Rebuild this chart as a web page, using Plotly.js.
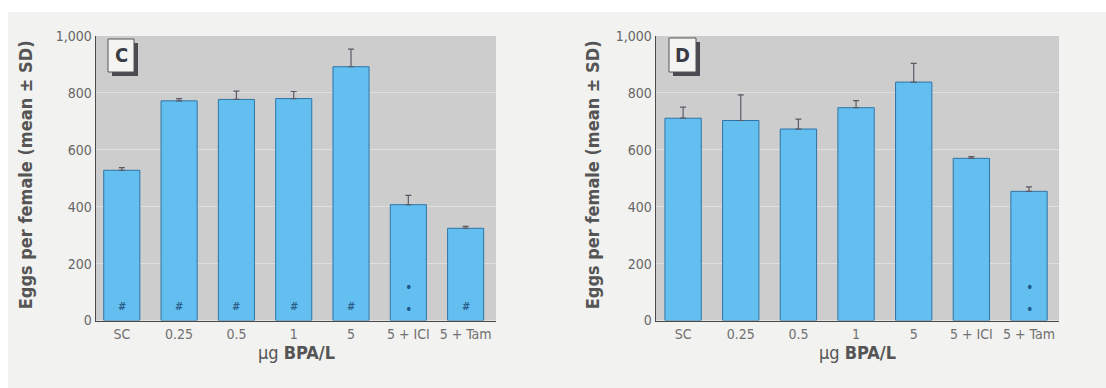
<!DOCTYPE html>
<html>
<head>
<meta charset="utf-8">
<script src="https://cdn.plot.ly/plotly-3.0.1.min.js"></script>
<style>
  html, body { margin: 0; padding: 0; background: #ffffff; }
  #chart { width: 1106px; height: 388px; }
</style>
</head>
<body>
<div id="chart"></div>
<script>
// Treatment groups (µg BPA/L)
const categories = ['SC', '0.25', '0.5', '1', '5', '5 + ICI', '5 + Tam'];

// Panel C: eggs per female, mean and upper SD
const eggsC = [528, 772, 777, 780, 892, 407, 324];
const sdC   = [9, 8, 29, 25, 62, 33, 7];
const marksC = ['#', '#', '#', '#', '#', '*', '#'];

// Panel D: eggs per female, mean and upper SD
const eggsD = [711, 703, 673, 748, 838, 570, 454];
const sdD   = [39, 90, 35, 25, 66, 6, 16];
const marksD = ['', '', '', '', '', '', '*'];

const yTicks = [0, 200, 400, 600, 800, 1000];
const panelLetters = ['C', 'D'];

const W = 1106, H = 388;
const px = v => v / W;
const py = v => 1 - v / H;

const FONT = '"Liberation Sans Narrow", "DejaVu Sans Condensed", "Arial Narrow", sans-serif';
const barFill = '#62bff0';
const barLine = '#2f74a6';
const ink = '#555555';

function barTrace(y, sd, xa, ya) {
  return {
    type: 'bar',
    x: categories.map((c, k) => k),
    y: y,
    xaxis: xa,
    yaxis: ya,
    width: 0.63,
    marker: { color: barFill, line: { color: barLine, width: 1 } },
    error_y: {
      type: 'data', symmetric: false, array: sd,
      arrayminus: sd.map(() => 0),
      color: '#5a5a66', thickness: 1.2, width: 3
    },
    hoverinfo: 'skip',
    showlegend: false
  };
}

const data = [
  barTrace(eggsC, sdC, 'x', 'y'),
  barTrace(eggsD, sdD, 'x2', 'y2')
];

// Plot areas in pixels
const panels = [
  { x0: 96, x1: 496, range: [-0.45, 6.53], xa: 'x', ya: 'y', marks: marksC,
    box: [108, 39, 134, 72], titleX: 25 },
  { x0: 656, x1: 1059, range: [-0.47, 6.52], xa: 'x2', ya: 'y2', marks: marksD,
    box: [669, 38, 696, 72], titleX: 592 }
];
const yTop = 36, yBottom = 320.5;

function xAxis(p) {
  return {
    domain: [px(p.x0), px(p.x1)],
    type: 'linear',
    range: p.range,
    tickvals: categories.map((c, k) => k),
    ticktext: categories,
    showgrid: false,
    zeroline: false,
    showline: true, linecolor: '#4a4a4a', linewidth: 1.5,
    ticks: '',
    tickfont: { family: FONT, size: 14, color: '#707070' },
    fixedrange: true
  };
}
function yAxis(p) {
  return {
    domain: [py(yBottom), py(yTop)],
    range: [0, 1000],
    tickvals: yTicks,
    tickformat: ',',
    showgrid: true, gridcolor: '#e0e0e0', gridwidth: 1,
    zeroline: false,
    showline: true, linecolor: '#4a4a4a', linewidth: 1.5,
    ticks: '',
    tickfont: { family: FONT, size: 14, color: '#666666' },
    fixedrange: true
  };
}

const shapes = [
  // white margin strips around the sheet
  { type: 'rect', xref: 'paper', yref: 'paper', x0: 0, x1: 1, y0: py(12), y1: 1,
    fillcolor: '#ffffff', line: { width: 0 }, layer: 'below' },
  { type: 'rect', xref: 'paper', yref: 'paper', x0: 0, x1: px(8), y0: 0, y1: 1,
    fillcolor: '#ffffff', line: { width: 0 }, layer: 'below' }
];
const annotations = [];

panels.forEach((p, i) => {
  const [bx0, by0, bx1, by1] = p.box;
  // letter box with drop shadow
  shapes.push({ type: 'rect', xref: 'paper', yref: 'paper',
    x0: px(bx0 + 4), x1: px(bx1 + 4), y0: py(by1 + 4), y1: py(by0 + 4),
    fillcolor: '#4a4a52', line: { width: 0 } });
  shapes.push({ type: 'rect', xref: 'paper', yref: 'paper',
    x0: px(bx0), x1: px(bx1), y0: py(by1), y1: py(by0),
    fillcolor: '#f4f4f2', line: { color: '#555555', width: 1 } });
  annotations.push({ xref: 'paper', yref: 'paper', x: px((bx0 + bx1) / 2), y: py((by0 + by1) / 2),
    text: '<b>' + panelLetters[i] + '</b>', showarrow: false,
    font: { family: FONT, size: 20, color: '#3a3a44' }, xanchor: 'center', yanchor: 'middle' });

  // axis titles
  annotations.push({ xref: 'paper', yref: 'paper', x: px(p.titleX), y: py((yTop + yBottom) / 2 - 3),
    text: '<b>Eggs per female (mean ± SD)</b>', textangle: -90, showarrow: false,
    font: { family: FONT, size: 18, color: ink }, xanchor: 'center', yanchor: 'middle' });
  annotations.push({ xref: 'paper', yref: 'paper', x: px((p.x0 + p.x1) / 2), y: py(352),
    text: 'µg <b>BPA/L</b>', showarrow: false,
    font: { family: FONT, size: 18, color: ink }, xanchor: 'center', yanchor: 'middle' });

  // significance marks inside bars
  p.marks.forEach((m, k) => {
    if (m === '#') {
      annotations.push({ xref: p.xa, yref: p.ya, x: k, y: 50, text: '<b><i>#</i></b>',
        showarrow: false, font: { family: FONT, size: 11, color: '#2c5f8c' } });
    } else if (m === '*') {
      [118, 42].forEach(v => annotations.push({ xref: p.xa, yref: p.ya, x: k, y: v,
        text: '•', showarrow: false, font: { family: FONT, size: 14, color: '#1f5a88' } }));
    }
  });
});

const layout = {
  width: W, height: H,
  margin: { l: 0, r: 0, t: 0, b: 0 },
  paper_bgcolor: '#f2f2f0',
  plot_bgcolor: '#cdcdcd',
  xaxis: xAxis(panels[0]),
  yaxis: yAxis(panels[0]),
  xaxis2: Object.assign(xAxis(panels[1]), { anchor: 'y2' }),
  yaxis2: Object.assign(yAxis(panels[1]), { anchor: 'x2' }),
  shapes: shapes,
  annotations: annotations
};
layout.xaxis.anchor = 'y';
layout.yaxis.anchor = 'x';

Plotly.newPlot('chart', data, layout, { staticPlot: true, displayModeBar: false });
</script>
</body>
</html>
